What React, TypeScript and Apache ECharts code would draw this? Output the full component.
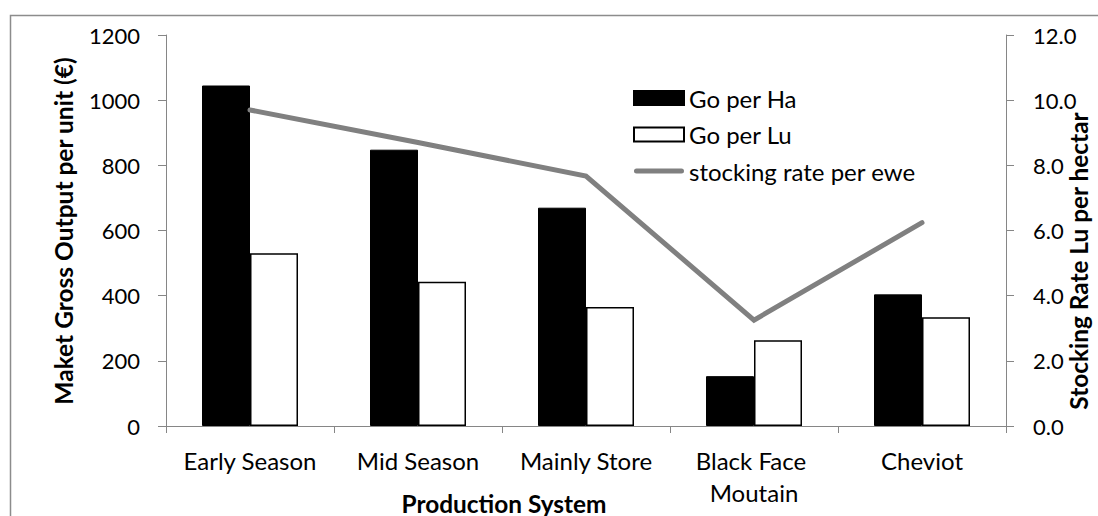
import React, { useEffect, useRef } from "react";
import * as echarts from "echarts";

const categories = ["Early Season", "Mid Season", "Mainly Store", "Black Face Moutain", "Cheviot"];
const goPerHa = [1045, 848, 670, 153, 404];
const goPerLu = [530, 443, 365, 263, 334];
const stockingRate = [9.7, 8.7, 7.67, 3.25, 6.24];
const seriesNames = ["Go per Ha", "Go per Lu", "stocking rate per ewe"];
const leftAxisTitle = "Maket Gross Output per unit (€)";
const rightAxisTitle = "Stocking Rate Lu per hectar";
const xAxisTitle = "Production System";

const FONT = "Lato, 'Open Sans', sans-serif";
const AXIS_GRAY = "#868686";
const LINE_GRAY = "#808080";

export default function App() {
  const ref = useRef<HTMLDivElement>(null);
  useEffect(() => {
    document.body.style.margin = "0";
    if (!ref.current) return;
    const chart = echarts.init(ref.current, undefined, { renderer: "svg" });
    chart.setOption({
      animation: false,
      backgroundColor: "#ffffff",
      textStyle: { fontFamily: FONT },
      grid: { left: 166, right: 92, top: 35, bottom: 90, containLabel: false, outerBoundsMode: "none" },
      legend: {
        orient: "vertical",
        left: 633,
        top: 86,
        padding: 0,
        itemWidth: 50,
        itemHeight: 14,
        itemGap: 12.5,
        textStyle: { fontFamily: FONT, fontSize: 24, color: "#000" },
        data: [
          { name: seriesNames[0], icon: "rect" },
          { name: seriesNames[1], icon: "rect" },
          {
            name: seriesNames[2],
            icon: "path://M5 0 H95 A5 5 0 0 1 95 10 H5 A5 5 0 0 1 5 0 Z",
          },
        ],
      },
      xAxis: {
        type: "category",
        data: categories,
        axisLine: { lineStyle: { color: AXIS_GRAY, width: 1 } },
        axisTick: { show: true, length: 7, alignWithLabel: false, lineStyle: { color: AXIS_GRAY } },
        axisLabel: {
          color: "#000",
          fontFamily: FONT,
          fontSize: 24,
          margin: 18,
          lineHeight: 32,
          width: 160,
          overflow: "break",
          interval: 0,
        },
      },
      yAxis: [
        {
          type: "value",
          min: 0,
          max: 1200,
          interval: 200,
          splitLine: { show: false },
          axisLine: { show: true, lineStyle: { color: AXIS_GRAY, width: 1 } },
          axisTick: { show: true, length: 8, lineStyle: { color: AXIS_GRAY } },
          axisLabel: {
            color: "#000",
            fontFamily: FONT,
            fontSize: 22,
            margin: 26,
            formatter: (v: number) => String(v),
          },
        },
        {
          type: "value",
          min: 0,
          max: 12,
          interval: 2,
          splitLine: { show: false },
          axisLine: { show: true, lineStyle: { color: AXIS_GRAY, width: 1 } },
          axisTick: { show: true, length: 8, lineStyle: { color: AXIS_GRAY } },
          axisLabel: {
            color: "#000",
            fontFamily: FONT,
            fontSize: 22,
            margin: 27,
            formatter: (v: number) => v.toFixed(1),
          },
        },
      ],
      series: [
        {
          name: seriesNames[0],
          type: "bar",
          yAxisIndex: 0,
          data: goPerHa,
          barWidth: 48,
          barGap: "0%",
          itemStyle: { color: "#000000", borderColor: "#000000", borderWidth: 1 },
        },
        {
          name: seriesNames[1],
          type: "bar",
          yAxisIndex: 0,
          data: goPerLu,
          barWidth: 48,
          barGap: "0%",
          itemStyle: { color: "#ffffff", borderColor: "#000000", borderWidth: 1.5 },
        },
        {
          name: seriesNames[2],
          type: "line",
          yAxisIndex: 1,
          data: stockingRate,
          symbol: "none",
          showSymbol: false,
          lineStyle: { color: LINE_GRAY, width: 5, cap: "round", join: "miter" },
          itemStyle: { color: LINE_GRAY },
        },
      ],
      graphic: [
        {
          type: "rect",
          silent: true,
          shape: { x: 10.5, y: 15.5, width: 1200, height: 600 },
          style: { fill: "none", stroke: "#8c8c8c", lineWidth: 1.5 },
        },
        {
          type: "text",
          x: 63.5,
          y: 231,
          rotation: Math.PI / 2,
          style: {
            text: leftAxisTitle,
            font: `bold 24.5px ${FONT}`,
            fill: "#000",
            align: "center",
            verticalAlign: "middle",
            textAlign: "center",
            textVerticalAlign: "middle",
          },
        },
        {
          type: "text",
          x: 1078,
          y: 261,
          rotation: Math.PI / 2,
          style: {
            text: rightAxisTitle,
            font: `bold 24.4px ${FONT}`,
            fill: "#000",
            align: "center",
            verticalAlign: "middle",
            textAlign: "center",
            textVerticalAlign: "middle",
          },
        },
        {
          type: "text",
          x: 504,
          y: 503,
          style: {
            text: xAxisTitle,
            font: `bold 24.4px ${FONT}`,
            fill: "#000",
            align: "center",
            verticalAlign: "middle",
            textAlign: "center",
            textVerticalAlign: "middle",
          },
        },
      ],
    });
    return () => chart.dispose();
  }, []);
  return <div ref={ref} style={{ width: 1098, height: 516 }} />;
}
